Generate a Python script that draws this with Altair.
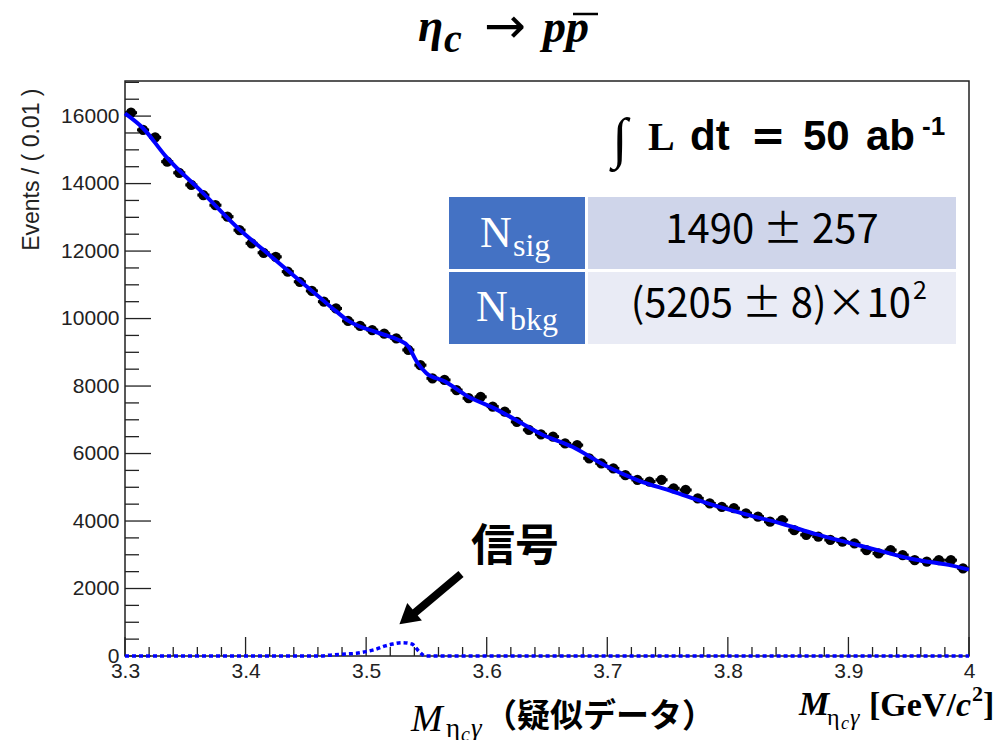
import altair as alt
import pandas as pd

# ---- histogram: 70 bins of 0.01 GeV/c^2 on [3.30, 4.00] ----
bin_lo = 3.30
bin_width = 0.01
counts = [16100, 15590, 15370, 14650, 14320, 13960, 13660, 13360, 13020, 12620,
          12230, 11950, 11830, 11390, 11090, 10820, 10500, 10300, 9930, 9780,
          9660, 9550, 9410, 9070, 8620, 8230, 8180, 7880, 7640, 7680,
          7390, 7240, 6940, 6700, 6570, 6500, 6300, 6250, 5860, 5710,
          5560, 5360, 5220, 5170, 5220, 4970, 4920, 4670, 4520, 4420,
          4380, 4230, 4130, 3980, 4030, 3730, 3590, 3540, 3440, 3390,
          3340, 3140, 3040, 3140, 2990, 2840, 2800, 2840, 2840, 2600]

# ---- total fit (signal + background) ----
fit_x = [3.300, 3.315, 3.334, 3.365, 3.394, 3.415, 3.445, 3.465, 3.475, 3.485,
         3.495, 3.505, 3.515, 3.526, 3.535, 3.542, 3.550, 3.565, 3.584, 3.605,
         3.626, 3.645, 3.671, 3.699, 3.726, 3.754, 3.782, 3.819, 3.845, 3.873,
         3.900, 3.928, 3.955, 3.983, 4.000]
fit_y = [16080, 15640, 14800, 13710, 12670, 12030, 11120, 10520, 10220, 9940,
         9760, 9640, 9520, 9380, 9170, 8720, 8380, 8140, 7700, 7360,
         6960, 6580, 6200, 5630, 5200, 4880, 4540, 4160, 3920, 3610,
         3360, 3100, 2860, 2700, 2560]

# ---- signal component ----
sig_x = [3.300, 3.460, 3.472, 3.484, 3.492, 3.500, 3.508, 3.516, 3.522, 3.530,
         3.538, 3.544, 3.549, 4.000]
sig_y = [0, 0, 30, 60, 80, 130, 200, 300, 355, 395, 355, 130, 0, 0]

# ---- axis ticks ----
x_major = [3.3, 3.4, 3.5, 3.6, 3.7, 3.8, 3.9, 4.0]
x_minor = [round(3.3 + 0.02 * i, 2) for i in range(36) if i % 5 != 0]
y_major = [0, 2000, 4000, 6000, 8000, 10000, 12000, 14000, 16000]
y_minor = [500 * i for i in range(35) if i % 4 != 0]

W, H = 844, 575
INK = "#222222"

centers = [round(bin_lo + bin_width * (i + 0.5), 3) for i in range(len(counts))]
hist = pd.DataFrame({
    "x": centers,
    "lo": [c - bin_width / 2 for c in centers],
    "hi": [c + bin_width / 2 for c in centers],
    "y": counts,
})
fit = pd.DataFrame({"x": fit_x, "y": fit_y})
sig = pd.DataFrame({"x": sig_x, "y": sig_y})

xs = alt.Scale(domain=[3.3, 4.0], nice=False, zero=False)
ys = alt.Scale(domain=[0, 17040], nice=False, zero=False)

x_axis = alt.Axis(values=x_major, format="~g", ticks=False, domain=False, grid=False,
                  labelPadding=4, labelFont="Liberation Sans", labelFontSize=21,
                  labelColor=INK, labelFlush=False, title=None)
y_axis = alt.Axis(values=y_major, format="d", ticks=False, domain=False, grid=False,
                  labelPadding=6, labelFont="Liberation Sans", labelFontSize=21,
                  labelColor=INK, title="Events / ( 0.01 )", titleFont="Liberation Sans",
                  titleFontSize=23, titleFontWeight="normal", titleColor=INK,
                  titleAngle=270, titleAlign="right", titleBaseline="middle",
                  titleX=-94, titleY=7)


def X(field):
    return alt.X(field, type="quantitative", scale=xs, axis=x_axis)


def Y(field):
    return alt.Y(field, type="quantitative", scale=ys, axis=y_axis)


one = pd.DataFrame({"k": [0]})


def txt(s, x, y, size, font="Liberation Serif", weight="normal", style="normal",
        align="left", baseline="alphabetic", color="black"):
    return alt.Chart(one).mark_text(
        text=s, font=font, fontSize=size, fontWeight=weight, fontStyle=style,
        align=align, baseline=baseline, color=color
    ).encode(x=alt.value(x), y=alt.value(y))


def box(x1, x2, y1, y2, color):
    return alt.Chart(one).mark_rect(color=color).encode(
        x=alt.value(x1), x2=alt.value(x2), y=alt.value(y1), y2=alt.value(y2))


# inward-pointing ticks
ticks = [
    alt.Chart(pd.DataFrame({"y": y_major})).mark_rule(color=INK, strokeWidth=1.3)
    .encode(y=Y("y"), x=alt.value(0), x2=alt.value(26)),
    alt.Chart(pd.DataFrame({"y": y_minor})).mark_rule(color=INK, strokeWidth=1.3)
    .encode(y=Y("y"), x=alt.value(0), x2=alt.value(14)),
    alt.Chart(pd.DataFrame({"x": x_major})).mark_rule(color=INK, strokeWidth=1.3)
    .encode(x=X("x"), y=alt.value(H), y2=alt.value(H - 19)),
    alt.Chart(pd.DataFrame({"x": x_minor})).mark_rule(color=INK, strokeWidth=1.3)
    .encode(x=X("x"), y=alt.value(H), y2=alt.value(H - 9)),
]

# results table
table = [
    box(324, 460, 116, 188, "#4472C4"),
    box(463, 831, 116, 188, "#CFD5EA"),
    box(324, 460, 191, 263, "#4472C4"),
    box(463, 831, 191, 263, "#E9EBF5"),
    txt("N", 355, 166, 44, color="white"),
    txt("sig", 388, 175, 32, color="white"),
    txt("N", 351, 240, 44, color="white"),
    txt("bkg", 385, 249, 32, color="white"),
    txt("1490 ± 257", 647, 150, 40, font="Noto Sans CJK JP", align="center",
        baseline="middle"),
    txt("(5205 ± 8)×10", 786, 224, 40, font="Noto Sans CJK JP", align="right",
        baseline="middle"),
    txt("2", 788, 218, 25, font="Noto Sans CJK JP"),
]

# integrated luminosity
lumi = [
    txt("∫", 487, 76, 56),
    txt("L", 523, 69, 40, weight="bold"),
    txt("dt", 565, 69, 42, font="Liberation Sans", weight="bold"),
    txt("=", 643, 69, 42, font="DejaVu Sans", weight="bold", align="center"),
    txt("50", 678, 69, 42, font="Liberation Sans", weight="bold"),
    txt("ab", 741, 69, 42, font="Liberation Sans", weight="bold"),
    txt("-1", 797, 54, 26, font="Liberation Sans", weight="bold"),
]

# title  η_c → p p̄
title = [
    txt("η", 293, -40, 46, weight="bold", style="italic"),
    txt("c", 319, -29, 40, weight="bold", style="italic"),
    txt("→", 359, -38, 50, font="DejaVu Sans"),
    txt("pp", 418, -39, 46, weight="bold", style="italic"),
    alt.Chart(one).mark_rule(color="black", strokeWidth=2.5).encode(
        x=alt.value(448), x2=alt.value(473), y=alt.value(-67)),
]

# signal annotation
note = [
    txt("信号", 390, 467, 44, font="Noto Sans CJK JP", weight="bold", align="center",
        baseline="middle"),
    alt.Chart(one).mark_rule(color="black", strokeWidth=8).encode(
        x=alt.value(336), x2=alt.value(286), y=alt.value(493), y2=alt.value(535)),
    alt.Chart(one).mark_point(shape="triangle-up", size=520, filled=True, color="black",
                              opacity=1, angle=230).encode(
        x=alt.value(282), y=alt.value(537)),
]

# axis captions below the frame
captions = [
    txt("M", 286, 650, 38, style="italic"),
    txt("η", 321, 656, 27),
    txt("c", 336, 660, 20, style="italic"),
    txt("γ", 346, 656, 27, style="italic"),
    txt("（疑似データ）", 359, 636, 33, font="Noto Sans CJK JP", weight="bold",
        baseline="middle"),
    txt("M", 674, 634, 34, weight="bold", style="italic"),
    txt("η", 702, 644, 24),
    txt("c", 716, 648, 18, style="italic"),
    txt("γ", 725, 644, 24, style="italic"),
    txt("[GeV/", 744, 635, 34, weight="bold"),
    txt("c", 831, 635, 34, weight="bold", style="italic"),
    txt("2", 847, 620, 22, weight="bold"),
    txt("]", 858, 635, 34, weight="bold"),
]

errs = alt.Chart(hist).mark_rule(color="black", strokeWidth=3).encode(
    x=X("lo"), x2="hi", y=Y("y"))
pts = alt.Chart(hist).mark_circle(size=105, color="black", opacity=1).encode(
    x=X("x"), y=Y("y"))
fit_line = alt.Chart(fit).mark_line(color="#0000FF", strokeWidth=4,
                                    interpolate="monotone").encode(x=X("x"), y=Y("y"))
sig_line = alt.Chart(sig).mark_line(color="#0000FF", strokeWidth=3.5, strokeDash=[4, 3],
                                    interpolate="monotone").encode(x=X("x"), y=Y("y"))

chart = alt.layer(
    *ticks, *table, errs, pts, fit_line, sig_line, *lumi, *title, *note, *captions
).properties(
    width=W, height=H,
    padding={"left": 125, "top": 81, "right": 33, "bottom": 84},
    autosize=alt.AutoSizeParams(type="none"),
    background="white",
).configure_view(stroke=INK, strokeWidth=1.5)

chart.save("out.html", embed_options={"renderer": "svg", "actions": False})
